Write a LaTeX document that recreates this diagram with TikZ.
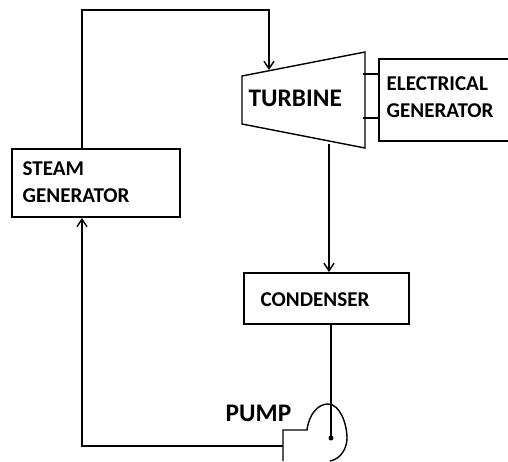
\documentclass[tikz,border=0pt]{standalone}
\usepackage{fontspec}
\setmainfont{Carlito}
\usetikzlibrary{arrows.meta,calc}

\begin{document}
\begin{tikzpicture}[x=0.02cm,y=-0.02cm,>=Stealth,
  line width=0.8pt,
  box/.style={draw, line width=1.1pt, anchor=north west, inner sep=0pt},
  lab/.style={font=\bfseries\fontsize{12pt}{15pt}\selectfont, align=left, inner sep=0pt},
  biglab/.style={font=\bfseries\fontsize{14.4pt}{16pt}\selectfont, inner sep=0pt},
  flow/.style={->, >={Straight Barb[length=1.5mm,width=2mm]}}]
  \useasboundingbox (0,0) rectangle (508,461);
  % ---- boxes ----
  \node[box, minimum width=3.36cm, minimum height=1.36cm] (steamgen) at (11,148) {};
  \node[box, minimum width=2.7cm, minimum height=1.64cm] (elecgen) at (378,58) {};
  \node[box, minimum width=3.3cm, minimum height=1.02cm] (condenser) at (243,272) {};
  \node[lab, anchor=west] (steamlab) at (22,182) {STEAM\\GENERATOR};
  \node[lab, anchor=west] (eleclab) at (386,97) {ELECTRICAL\\GENERATOR};
  \node[lab, anchor=west] (condlab) at (260,300) {CONDENSER};
  % ---- turbine ----
  \coordinate (tnw) at (242,76);
  \coordinate (tne) at (365,52);
  \coordinate (tse) at (365,148);
  \coordinate (tsw) at (242,124);
  \draw (tnw) -- (tne) -- (tse) -- (tsw) -- cycle;
  \node[biglab, anchor=west] (turbine) at (248,98) {TURBINE};
  \draw (363,74) -- (elecgen.west |- 0,74);
  \draw (363,118) -- (elecgen.west |- 0,118);
  % ---- pump ----
  \draw (283,461) -- (283,430) -- (307,430)
    .. controls (309,414) and (318,404) .. (328,404)
    .. controls (340,404) and (347,424) .. (347,438)
    .. controls (347,448) and (341,459) .. (330,461);
  \node[biglab, anchor=west] (pumplab) at (225,413) {PUMP};
  \fill (331,438) circle (2.5) coordinate (pumpdot);
  % ---- connectors ----
  \coordinate (topleft) at (82,10);
  \coordinate (topright) at (269,10);
  \coordinate (turbin) at (269,70);
  \coordinate (turbout) at (329,144);
  \coordinate (pumpout) at (283,446);
  \coordinate (botleft) at (82,446);
  \draw[flow] (topleft |- steamgen.north) -- (topleft) -- (topright) -- (turbin);
  \draw[flow] (turbout) -- (turbout |- condenser.north);
  \draw (pumpdot |- condenser.south) -- (pumpdot);
  \draw[flow] (pumpout) -- (botleft) -- (botleft |- steamgen.south);
\end{tikzpicture}
\end{document}
